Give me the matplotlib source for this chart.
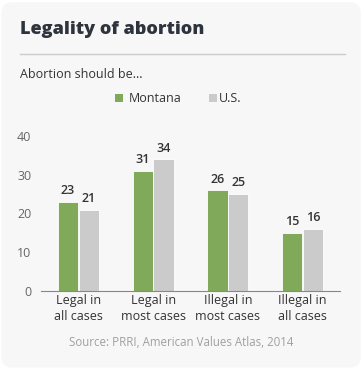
import matplotlib
matplotlib.use("Agg")
import matplotlib.pyplot as plt
from matplotlib.patches import FancyBboxPatch
import numpy as np

categories = ["Legal in\nall cases", "Legal in\nmost cases", "Illegal in\nmost cases", "Illegal in\nall cases"]
montana = [23, 31, 26, 15]
us = [21, 34, 25, 16]
series_names = ["Montana", "U.S."]
yticks = [0, 10, 20, 30, 40]

plt.rcParams['font.family'] = ['Open Sans', 'DejaVu Sans']
W, H = 363, 369
fig = plt.figure(figsize=(W/100, H/100), dpi=100)
fig.patch.set_facecolor("white")
card = FancyBboxPatch((0.004, 0.004), 0.99, 0.99, boxstyle="round,pad=0,rounding_size=0.03",
                      transform=fig.transFigure, facecolor="#f7f7f7", edgecolor="none", zorder=-10)
fig.patches.append(card)

def fx(px): return px / W
def fy(py): return 1 - py / H

fig.text(fx(20), fy(30), "Legality of abortion", fontsize=13.1, fontweight="heavy", color="#2e343d", va="center", ha="left")
fig.add_artist(plt.Line2D([fx(20), fx(345)], [fy(54), fy(54)], color="#cccccc", lw=1))
fig.text(fx(20), fy(74), "Abortion should be...", fontsize=9, color="#333333", va="center", ha="left")

green = "#80a95a"
gray = "#cbcbcb"
# legend
fig.patches.append(plt.Rectangle((fx(115), fy(102)), fx(8), 8/H, transform=fig.transFigure, facecolor=green, edgecolor="none"))
fig.text(fx(129), fy(98), series_names[0], fontsize=9, color="#333333", va="center", ha="left")
fig.patches.append(plt.Rectangle((fx(209), fy(102)), fx(8), 8/H, transform=fig.transFigure, facecolor=gray, edgecolor="none"))
fig.text(fx(219), fy(98), series_names[1], fontsize=9, color="#333333", va="center", ha="left")

ax = fig.add_axes([fx(41), fy(291), fx(340) - fx(41), (291 - 136) / H * 42.5 / 40])
ax.set_facecolor("none")
x = np.arange(len(categories))
w = 0.27
b1 = ax.bar(x - w/2 - 0.003, montana, w, color=green, edgecolor="white", linewidth=0.6)
b2 = ax.bar(x + w/2 + 0.003, us, w, color=gray, edgecolor="white", linewidth=0.6)
for bars, vals in ((b1, montana), (b2, us)):
    for r, v in zip(bars, vals):
        ax.text(r.get_x() + r.get_width()/2, v + 1.2, str(v), ha="center", va="bottom",
                fontsize=9, fontweight="semibold", color="#333333")
ax.set_xlim(-0.5, 3.5)
ax.set_ylim(0, 42.5)
ax.set_yticks(yticks)
ax.set_yticklabels([str(t) for t in yticks], fontsize=9, color="#666666")
ax.set_xticks(x)
ax.set_xticklabels(categories, fontsize=9, color="#333333", linespacing=1.35)
for s in ["top", "right", "left"]:
    ax.spines[s].set_visible(False)
ax.spines["bottom"].set_color("#888888")
ax.spines["bottom"].set_linewidth(0.8)
ax.tick_params(axis="both", length=0, pad=2)
ax.tick_params(axis="y", pad=7)

fig.text(fx(181), fy(343), "Source: PRRI, American Values Atlas, 2014", fontsize=8.3, color="#a0a0a0", ha="center", va="center")

fig.savefig("out.png", dpi=100, facecolor=fig.get_facecolor())
